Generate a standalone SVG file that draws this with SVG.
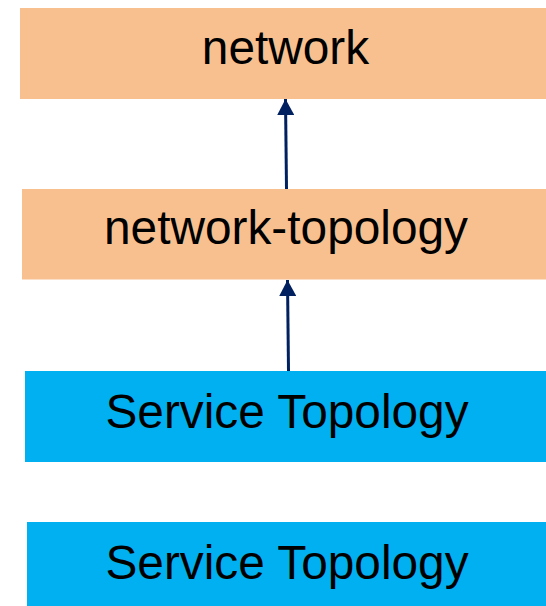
<svg xmlns="http://www.w3.org/2000/svg" width="546" height="606" viewBox="0 0 546 606">
  <style>
    .orange { fill: #F8C08F; }
    .blue { fill: #00B0F0; }
    .label { font-family: "Liberation Sans", Arial, sans-serif; font-size: 47.8px; fill: #000000; text-anchor: middle; }
    .conn { stroke: #002060; stroke-width: 3; fill: none; }
  </style>
  <defs>
    <marker id="arrow" markerUnits="userSpaceOnUse" markerWidth="16" markerHeight="17" viewBox="0 0 16 17" refX="16" refY="8.5" orient="auto">
      <path d="M0,0 L16,8.5 L0,17 Z" fill="#002060"/>
    </marker>
  </defs>
  <rect x="0" y="0" width="546" height="606" fill="#FFFFFF"/>
  <g id="node-network">
    <rect class="orange" x="20" y="8" width="526" height="91"/>
    <text class="label" x="285.5" y="63.5">network</text>
  </g>
  <g id="node-network-topology">
    <rect class="orange" x="22" y="189" width="524" height="90.5"/>
    <text class="label" x="286" y="244">network-topology</text>
  </g>
  <g id="node-service-topology-1">
    <rect class="blue" x="25" y="371" width="521" height="91"/>
    <text class="label" x="287" y="427.5">Service Topology</text>
  </g>
  <g id="node-service-topology-2">
    <rect class="blue" x="27" y="522" width="519" height="84"/>
    <text class="label" x="287" y="579">Service Topology</text>
  </g>
  <g id="connectors">
    <line class="conn" x1="286.5" y1="189" x2="285.5" y2="99" marker-end="url(#arrow)"/>
    <line class="conn" x1="288.5" y1="371" x2="287.5" y2="280" marker-end="url(#arrow)"/>
  </g>
</svg>
